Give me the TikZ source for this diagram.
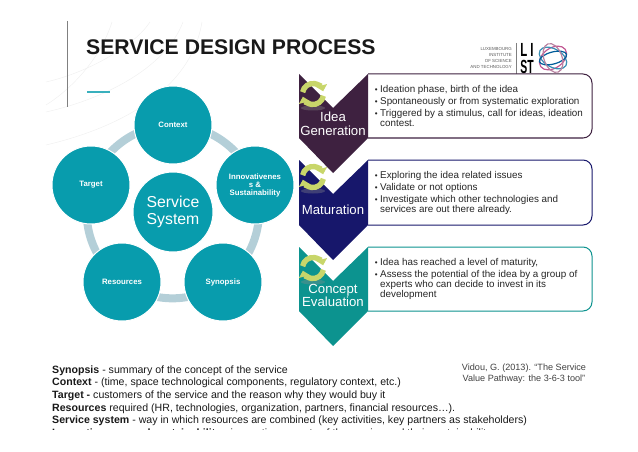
\documentclass[tikz,border=0pt]{standalone}
\usepackage{fontspec}
\setmainfont{Liberation Sans}
\usetikzlibrary{arrows.meta,positioning,backgrounds}

\definecolor{petrol}{HTML}{089CAD}
\definecolor{ringblue}{HTML}{B4CFD8}
\definecolor{ideacol}{HTML}{3E2140}
\definecolor{matcol}{HTML}{17176B}
\definecolor{conceptcol}{HTML}{0C938F}
\definecolor{cyclegreen}{HTML}{C8D66A}
\newcommand{\fs}[2]{\fontsize{#1}{#2}\selectfont}
\newcommand{\bl}{\makebox[5.3pt][l]{\fs{8}{8}•}}
\newcommand{\ind}{\hspace*{5.3pt}}

\begin{document}
\begin{tikzpicture}[x=1pt, y=-1pt,
    % --- Circle styles ---
    topic/.style={draw=white, line width=1pt, circle, fill=petrol, minimum size=78pt, inner sep=0pt,
                  text=white, align=center, font=\fs{7.8}{8}\bfseries},
    hub/.style={topic, minimum size=80pt, font=\fs{15.8}{17.5}},
    % --- Edge styles ---
    ring edge/.style={line width=8pt, ringblue, looseness=0.94},
    % --- Text styles ---
    chevron label/.style={text=white, align=center, inner sep=0pt, font=\fs{13.2}{13.6}},
    bullets/.style={anchor=north west, inner sep=0pt, align=left, font=\fs{9.85}{10}, text=black!85},
    cycle arc/.style={line width=5.4pt, cyclegreen, -{Triangle[length=6pt,width=11pt]}},
    logo name/.style={inner sep=0pt, font=\fs{19}{19}\bfseries},
    swirl/.style={black!6, line width=0.5pt},
]
\useasboundingbox (0,0) rectangle (638,452);

% ============================================================
% Header: faint background lines, rule, title, logo
% ============================================================
\draw[swirl] (46,82) .. controls (90,72) and (135,45) .. (150,22);
\draw[swirl] (46,112) .. controls (100,100) and (165,70) .. (183,22);
\draw[swirl] (46,145) .. controls (110,130) and (190,95) .. (202,22);
\draw[swirl] (46,105) .. controls (70,90) and (100,60) .. (112,22);
\draw[black!50, line width=0.6pt] (67.5,21) -- (67.5,107);
\draw[petrol!80, line width=2.6pt] (87,92) -- (110,92);
\node[anchor=west, inner sep=0pt, font=\fs{21.2}{23}\bfseries, text=black!90] (title) at (86,47.5) {SERVICE DESIGN PROCESS};

% --- Logo ---
\node[anchor=east, inner sep=0pt, align=right, text=black!65, font=\fs{4.4}{6.1}] (logotext) at (512,58)
  {LUXEMBOURG\\INSTITUTE\\OF SCIENCE\\AND TECHNOLOGY};
\draw[black!50, line width=0.5pt] (516,43) -- (516,74);
\node[logo name] (logoli) at (527,50) {\scalebox{0.6}[1]{L\hspace{5pt}I}};
\node[logo name] (logost) at (527,66.5) {\scalebox{0.55}[1]{ST}};
\begin{scope}[shift={(553,58)}, line width=1.2pt]
  \draw[magenta!70!black!80] (0,0) ellipse[x radius=15, y radius=10, rotate=35];
  \draw[cyan!70!black] (0,0) ellipse[x radius=15, y radius=9, rotate=-30];
  \draw[blue!40!cyan!60!black] (0,0) ellipse[x radius=14, y radius=6, rotate=15];
  \draw[magenta!50!black!60] (0,0) ellipse[x radius=9, y radius=15, rotate=20];
\end{scope}

% ============================================================
% Left: five topics around the service system
% ============================================================
\node[topic] (context) at (173,125) {Context};
\node[topic] (innov)   at (255,185) {Innovativenes\\s \&\\Sustainability};
\node[topic] (synop)   at (223,282) {Synopsis};
\node[topic] (resour)  at (122,282) {Resources};
\node[topic] (target)  at (91,185)  {Target};
\node[hub]   (system)  at (173,212) {Service\\System};

\begin{scope}[on background layer]
  \foreach \a/\b in {context/innov, innov/synop, synop/resour, resour/target, target/context}
    \draw[ring edge] (\a.center) to[bend left=36] (\b.center);
\end{scope}

% ============================================================
% Right: three chevrons with their boxes
% ============================================================
\foreach \t/\b/\c in {74/138/ideacol, 160/225/matcol, 247/311/conceptcol}{
  % Box, square on the chevron side
  \draw[\c, line width=1pt, fill=white] (368,\t) [rounded corners=9pt] -- (592,\t) -- (592,\b) -- (440,\b) [sharp corners] -- (368,\b);
  % Chevron
  \fill[\c] (299,\t) -- (333,\t+34) -- (368,\t) -- (368,\b) -- (333,\b+35) -- (299,\b) -- cycle;
}
\foreach \y in {94,177,268}{
  \begin{scope}[shift={(313,\y)}]
    \fill[black!45, opacity=0.35] (0,14) ellipse[x radius=12, y radius=2.5];
    \draw[cycle arc] (190:10.5) arc[start angle=190, end angle=345, radius=10.5];
    \draw[cycle arc] (10:10.5) arc[start angle=10, end angle=165, radius=10.5];
  \end{scope}
}
\node[chevron label] (idea)    at (333,124)   {Idea\\Generation};
\node[chevron label] (matur)   at (333,210)   {Maturation};
\node[chevron label] (concept) at (333,295.5) {Concept\\Evaluation};

% --- Bullets ---
\node[bullets] (ideatext) at (374.7,84.7) {\bl Ideation phase, birth of the idea\\[2pt]
  \bl Spontaneously or from systematic exploration\\[2pt]
  \bl Triggered by a stimulus, call for ideas, ideation\\
  \ind contest.};
\node[bullets] (mattext) at (374.7,170.7) {\bl Exploring the idea related issues\\[2pt]
  \bl Validate or not options\\[2pt]
  \bl Investigate which other technologies and\\
  \ind services are out there already.};
\node[bullets] (concepttext) at (374.7,257.7) {\bl Idea has reached a level of maturity,\\[2pt]
  \bl Assess the potential of the idea by a group of\\
  \ind experts who can decide to invest in its\\
  \ind development};

% ============================================================
% Bottom: definitions (last line cut off) and citation
% ============================================================
\begin{scope}
  \clip (40,340) rectangle (600,429.8);
  \node[anchor=north west, inner sep=0pt, align=left, text=black!90, font=\fs{10.6}{12.6}] (defs) at (52,365.5) {%
    \textbf{Synopsis} - summary of the concept of the service\\
    \textbf{Context} - (time, space technological components, regulatory context, etc.)\\
    \textbf{Target -} customers of the service and the reason why they would buy it\\
    \textbf{Resources} required (HR, technologies, organization, partners, financial resources…).\\
    \textbf{Service system} - way in which resources are combined (key activities, key partners as stakeholders)\\
    \textbf{Innovativeness and sustainability} - innovative aspects of the service and their sustainability};
\end{scope}
\node[inner sep=0pt, align=center, text=black!75, font=\fs{9.1}{11}] (cite) at (524,373.5)
  {Vidou, G. (2013). “The Service\\Value Pathway: the 3-6-3 tool”};

\end{tikzpicture}
\end{document}
